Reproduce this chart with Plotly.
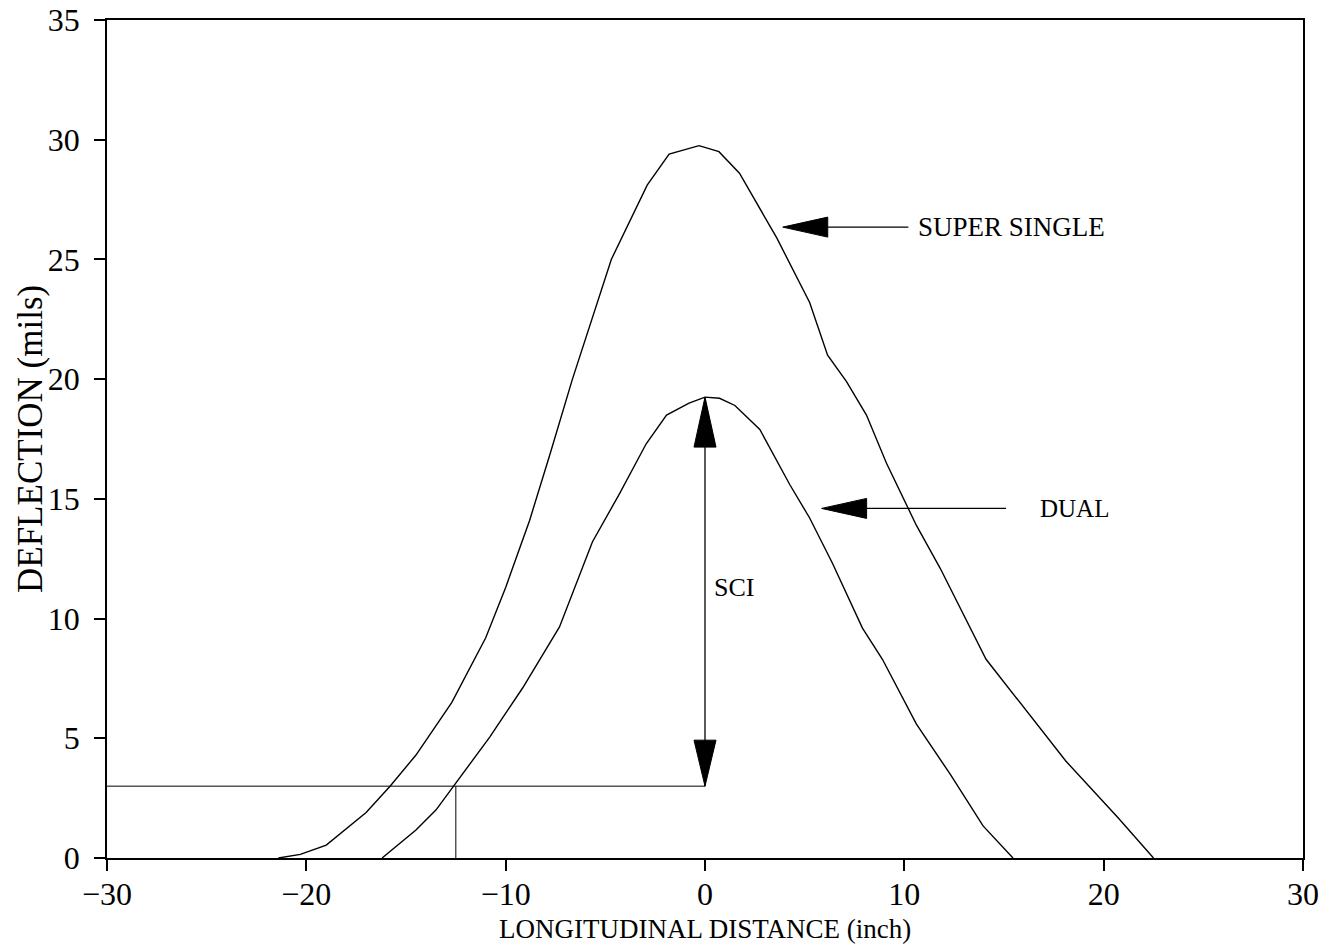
import plotly.graph_objects as go

# ---- data ----
super_x = [-21.4, -20.3, -19.0, -17.0, -15.8, -14.5, -12.7, -11.0, -10.0, -8.8, -7.8, -6.65, -4.7, -2.9,
           -1.8, -0.3, 0.7, 1.73, 3.6, 5.25, 6.15, 7.1, 8.1, 9.1, 10.6, 11.8, 14.1, 15.6, 18.1, 20.7, 22.5]
super_y = [0.0, 0.15, 0.54, 1.9, 3.0, 4.3, 6.5, 9.2, 11.3, 14.1, 16.8, 20.0, 25.0, 28.1,
           29.4, 29.75, 29.5, 28.6, 25.9, 23.2, 21.0, 19.9, 18.5, 16.5, 13.9, 12.1, 8.3, 6.7, 4.05, 1.7, 0.0]

dual_x = [-16.2, -14.5, -13.5, -12.6, -10.8, -9.15, -7.3, -5.65, -4.3, -2.95, -1.93, -0.8, 0.0, 0.73,
          1.5, 2.75, 4.25, 5.25, 6.4, 7.9, 8.9, 10.6, 12.3, 13.95, 15.45]
dual_y = [0.0, 1.17, 2.0, 3.0, 5.05, 7.1, 9.65, 13.2, 15.2, 17.3, 18.5, 19.0, 19.25, 19.2,
          18.9, 17.9, 15.6, 14.2, 12.3, 9.6, 8.3, 5.6, 3.5, 1.34, 0.0]

x_ticks = [-30, -20, -10, 0, 10, 20, 30]
y_ticks = [0, 5, 10, 15, 20, 25, 30, 35]

x_title = "LONGITUDINAL DISTANCE (inch)"
y_title = "DEFLECTION (mils)"

sci_base = 3.0       # deflection level of the SCI base
sci_peak = 19.25     # dual peak
sci_foot_x = -12.5   # where dual curve meets the base level

super_arrow = dict(tip=(3.9, 26.35), tail_x=10.2, label="SUPER SINGLE", label_x=15.4, size=27)
dual_arrow = dict(tip=(5.85, 14.6), tail_x=15.1, label="DUAL", label_x=18.55, size=25)
sci_label = dict(x=0.35, y=11.3, text="SCI", size=26)

# ---- layout geometry ----
W, H = 1324, 951
ML, MR, MT, MB = 107, 21, 20, 93
XR = (-30, 30)
YR = (0, 35)
PW, PH = W - ML - MR, H - MT - MB
px_x = PW / (XR[1] - XR[0])
px_y = PH / (YR[1] - YR[0])

FONT = "Liberation Serif"

fig = go.Figure()
fig.add_trace(go.Scatter(x=super_x, y=super_y, mode="lines",
                         line=dict(color="black", width=1.4), showlegend=False))
fig.add_trace(go.Scatter(x=dual_x, y=dual_y, mode="lines",
                         line=dict(color="black", width=1.4), showlegend=False))

# SCI guide lines
fig.add_trace(go.Scatter(x=[XR[0], 0], y=[sci_base, sci_base], mode="lines",
                         line=dict(color="black", width=1), showlegend=False))
fig.add_trace(go.Scatter(x=[sci_foot_x, sci_foot_x], y=[0, sci_base], mode="lines",
                         line=dict(color="black", width=1), showlegend=False))
fig.add_trace(go.Scatter(x=[0, 0], y=[sci_base, sci_peak], mode="lines",
                         line=dict(color="black", width=1.3), showlegend=False))

shapes = []


def tri_h(tip_x, tip_y, length_px=45, half_px=10):
    bx = tip_x + length_px / px_x
    hy = half_px / px_y
    return f"M {tip_x},{tip_y} L {bx},{tip_y + hy} L {bx},{tip_y - hy} Z"


def tri_v(tip_x, tip_y, direction, length_px=50, half_px=11):
    by = tip_y + direction * length_px / px_y
    hx = half_px / px_x
    return f"M {tip_x},{tip_y} L {tip_x + hx},{by} L {tip_x - hx},{by} Z"


for arr in (super_arrow, dual_arrow):
    tx, ty = arr["tip"]
    shapes.append(dict(type="path", path=tri_h(tx, ty), fillcolor="black",
                       line=dict(color="black", width=1), xref="x", yref="y"))
    fig.add_trace(go.Scatter(x=[tx + 40 / px_x, arr["tail_x"]], y=[ty, ty], mode="lines",
                             line=dict(color="black", width=1.3), showlegend=False))

shapes.append(dict(type="path", path=tri_v(0, sci_peak, -1), fillcolor="black",
                   line=dict(color="black", width=1), xref="x", yref="y"))
shapes.append(dict(type="path", path=tri_v(0, sci_base, 1, length_px=46), fillcolor="black",
                   line=dict(color="black", width=1), xref="x", yref="y"))

annotations = [
    dict(x=super_arrow["label_x"], y=super_arrow["tip"][1], text=super_arrow["label"],
         showarrow=False, font=dict(family=FONT, size=super_arrow["size"], color="black"),
         xanchor="center"),
    dict(x=dual_arrow["label_x"], y=dual_arrow["tip"][1], text=dual_arrow["label"],
         showarrow=False, font=dict(family=FONT, size=dual_arrow["size"], color="black"),
         xanchor="center"),
    dict(x=sci_label["x"], y=sci_label["y"], text=sci_label["text"], showarrow=False,
         font=dict(family=FONT, size=sci_label["size"], color="black"), xanchor="left"),
    # axis titles
    dict(xref="paper", yref="paper", x=0.5, y=-(929 - (H - MB)) / PH, text=x_title,
         showarrow=False, xanchor="center", yanchor="middle",
         font=dict(family=FONT, size=27, color="black")),
    dict(xref="paper", yref="paper", x=(30 - ML) / PW, y=0.5, text=y_title, textangle=-90,
         showarrow=False, xanchor="center", yanchor="middle",
         font=dict(family=FONT, size=35, color="black")),
]

fig.update_layout(
    width=W, height=H,
    margin=dict(l=ML, r=MR, t=MT, b=MB, pad=0),
    paper_bgcolor="white", plot_bgcolor="white",
    shapes=shapes, annotations=annotations,
    showlegend=False,
    xaxis=dict(range=list(XR), tickvals=x_ticks,
               ticktext=[str(v).replace("-", "\u2212") for v in x_ticks],
               automargin=False,
               showgrid=False, zeroline=False, showline=True, linecolor="black", linewidth=1.5,
               mirror=True, ticks="outside", ticklen=11, tickwidth=1.5, tickcolor="black",
               ticklabelstandoff=-4,
               tickfont=dict(family=FONT, size=32, color="black")),
    yaxis=dict(range=list(YR), tickvals=y_ticks, automargin=False,
               showgrid=False, zeroline=False, showline=True, linecolor="black", linewidth=1.5,
               mirror=True, ticks="outside", ticklen=11, tickwidth=1.5, tickcolor="black",
               ticklabelstandoff=8,
               tickfont=dict(family=FONT, size=32, color="black")),
)

fig.write_html("out.html")
